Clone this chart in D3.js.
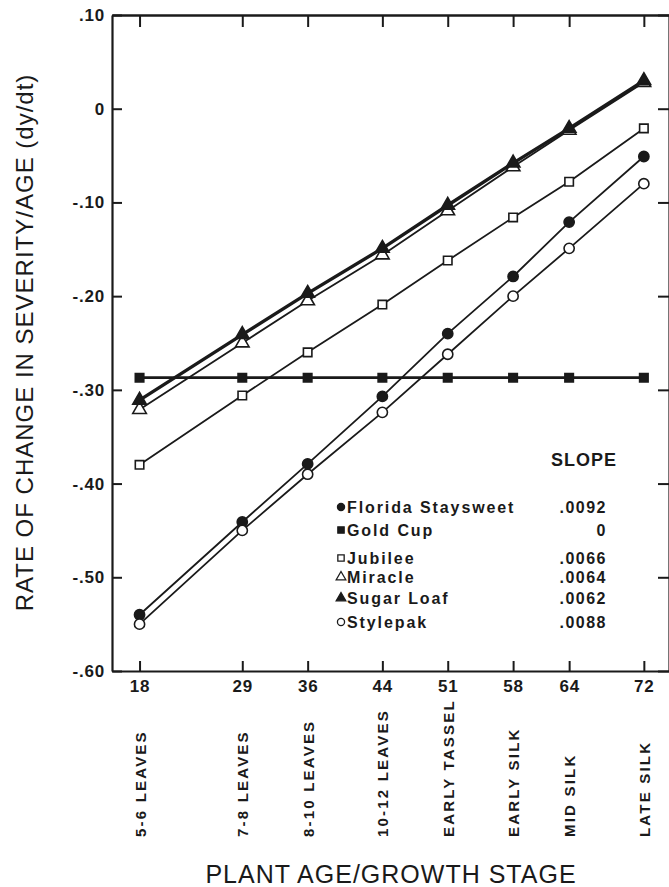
<!DOCTYPE html>
<html lang="en">
  <head>
    <meta charset="UTF-8" />
    <title>Rate of change in severity</title>
    <style>
      * {
        margin: 0;
        padding: 0;
      }
      body {
        background: #fff;
      }
      svg text {
        font-family: 'Liberation Sans', Arial, Helvetica, sans-serif;
        fill: #1a1a1a;
      }
    </style>
  </head>
  <body>
    <script src="https://cdn.jsdelivr.net/npm/d3@7"></script>
    <script>
      // plant age (days) and growth stage at each age
      const ages = [18, 29, 36, 44, 51, 58, 64, 72]
      const stages = [
        '5-6 LEAVES',
        '7-8 LEAVES',
        '8-10 LEAVES',
        '10-12 LEAVES',
        'EARLY TASSEL',
        'EARLY SILK',
        'MID SILK',
        'LATE SILK'
      ]
      const yTicks = [0.1, 0, -0.1, -0.2, -0.3, -0.4, -0.5, -0.6]

      // rate of change per cultivar, one value per age
      const floridaStaysweet = [-0.54, -0.441, -0.379, -0.307, -0.24, -0.179, -0.121, -0.051]
      const goldCup = [-0.287, -0.287, -0.287, -0.287, -0.287, -0.287, -0.287, -0.287]
      const jubilee = [-0.38, -0.306, -0.26, -0.209, -0.162, -0.116, -0.078, -0.021]
      const miracle = [-0.321, -0.25, -0.205, -0.156, -0.109, -0.062, -0.023, 0.028]
      const sugarLoaf = [-0.311, -0.241, -0.197, -0.149, -0.103, -0.058, -0.021, 0.03]
      const stylepak = [-0.55, -0.45, -0.39, -0.324, -0.262, -0.2, -0.149, -0.08]

      const names = ['Florida Staysweet', 'Gold Cup', 'Jubilee', 'Miracle', 'Sugar Loaf', 'Stylepak']
      const slopes = ['.0092', '0', '.0066', '.0064', '.0062', '.0088']

      const ink = '#1a1a1a'

      const series = [
        { name: names[0], values: floridaStaysweet, shape: d3.symbolCircle, fill: true, lw: 1.8 },
        { name: names[1], values: goldCup, shape: d3.symbolSquare, fill: true, lw: 2.6 },
        { name: names[2], values: jubilee, shape: d3.symbolSquare, fill: false, lw: 1.8 },
        { name: names[5], values: stylepak, shape: d3.symbolCircle, fill: false, lw: 1.8 },
        { name: names[3], values: miracle, shape: d3.symbolTriangle, fill: false, lw: 1.8 },
        { name: names[4], values: sugarLoaf, shape: d3.symbolTriangle, fill: true, lw: 3.4 }
      ]

      const W = 669
      const H = 887
      const mLeft = 112
      const mRight = 670
      const mTop = 15
      const mBottom = 671

      const svg = d3.select('body').append('svg').attr('width', W).attr('height', H)

      const x = d3.scaleLinear().domain([15.05, 74.8]).range([mLeft, mRight])
      const y = d3.scaleLinear().domain([-0.6, 0.1]).range([mBottom, mTop])

      const fmtY = v => {
        if (Math.abs(v) < 1e-9) return '0'
        return (v < 0 ? '-' : '') + d3.format('.2f')(Math.abs(v)).replace(/^0/, '')
      }

      // axes (ticks pointing inward)
      const gx = svg
        .append('g')
        .attr('transform', `translate(0,${mBottom})`)
        .call(d3.axisBottom(x).tickValues(ages).tickSizeInner(-10).tickSizeOuter(0).tickPadding(9).tickFormat(d3.format('d')))
      gx.selectAll('text').attr('font-size', 17).attr('font-weight', 'bold').attr('letter-spacing', 0.8)

      const gxt = svg
        .append('g')
        .attr('transform', `translate(0,${mTop})`)
        .call(d3.axisTop(x).tickValues(ages).tickSizeInner(-12).tickSizeOuter(0).tickFormat(''))

      const gy = svg
        .append('g')
        .attr('transform', `translate(${mLeft},0)`)
        .call(d3.axisLeft(y).tickValues(yTicks).tickSizeInner(-10).tickSizeOuter(0).tickPadding(7).tickFormat(fmtY))
      gy.selectAll('text').attr('font-size', 17).attr('font-weight', 'bold').attr('letter-spacing', 0.8)

      const gyr = svg
        .append('g')
        .attr('transform', `translate(${mRight - 1},0)`)
        .call(d3.axisRight(y).tickValues(yTicks).tickSizeInner(-11).tickSizeOuter(0).tickFormat(''))

      svg.selectAll('.domain').attr('stroke', ink).attr('stroke-width', 2.2)
      svg.selectAll('.tick line').attr('stroke', ink).attr('stroke-width', 2)
      gxt.select('.domain').attr('stroke-width', 2.4)

      // growth stage labels under the ages
      svg
        .append('g')
        .selectAll('text')
        .data(stages)
        .join('text')
        .attr('transform', (d, i) => `translate(${x(ages[i]) + 6},837) rotate(-90)`)
        .attr('font-size', 15)
        .attr('font-weight', 'bold')
        .attr('letter-spacing', 2.2)
        .text(d => d)

      svg
        .append('text')
        .attr('x', (mLeft + mRight) / 2)
        .attr('y', 883)
        .attr('text-anchor', 'middle')
        .attr('font-size', 25)
        .attr('letter-spacing', 1)
        .text('PLANT AGE/GROWTH STAGE')

      svg
        .append('text')
        .attr('transform', `translate(33,${(72 + 613) / 2}) rotate(-90)`)
        .attr('text-anchor', 'middle')
        .attr('font-size', 24)
        .attr('letter-spacing', 1)
        .text('RATE OF CHANGE IN SEVERITY/AGE (dy/dt)')

      // lines and markers
      const line = d3
        .line()
        .x((d, i) => x(ages[i]))
        .y(d => y(d))

      const plot = svg.append('g')
      series.forEach(s => {
        plot
          .append('path')
          .datum(s.values)
          .attr('fill', 'none')
          .attr('stroke', ink)
          .attr('stroke-width', s.lw)
          .attr('d', line)
        const size = s.shape === d3.symbolTriangle ? 80 : s.shape === d3.symbolSquare ? 72 : 82
        plot
          .append('g')
          .selectAll('path')
          .data(s.values)
          .join('path')
          .attr('transform', (d, i) => `translate(${x(ages[i])},${y(d)})`)
          .attr('d', d3.symbol(s.shape, size))
          .attr('fill', s.fill ? ink : '#fff')
          .attr('stroke', ink)
          .attr('stroke-width', 1.6)
      })

      // legend
      const legendShapes = [
        { shape: d3.symbolCircle, fill: true },
        { shape: d3.symbolSquare, fill: true },
        { shape: d3.symbolSquare, fill: false },
        { shape: d3.symbolTriangle, fill: false },
        { shape: d3.symbolTriangle, fill: true },
        { shape: d3.symbolCircle, fill: false }
      ]
      const legendY = [507, 530, 558, 577, 598, 622]

      svg
        .append('text')
        .attr('x', 584)
        .attr('y', 466)
        .attr('text-anchor', 'middle')
        .attr('font-size', 18)
        .attr('font-weight', 'bold')
        .attr('letter-spacing', 1)
        .text('SLOPE')

      const leg = svg
        .append('g')
        .selectAll('g')
        .data(names)
        .join('g')
        .attr('transform', (d, i) => `translate(0,${legendY[i]})`)

      leg
        .append('path')
        .attr('transform', 'translate(341,0)')
        .attr('d', (d, i) => d3.symbol(legendShapes[i].shape, 40)())
        .attr('fill', (d, i) => (legendShapes[i].fill ? ink : '#fff'))
        .attr('stroke', ink)
        .attr('stroke-width', 1.3)

      leg
        .append('text')
        .attr('x', 347)
        .attr('y', 6)
        .attr('font-size', 16)
        .attr('font-weight', 'bold')
        .attr('letter-spacing', 1.9)
        .text(d => d)

      leg
        .append('text')
        .attr('x', 607)
        .attr('y', 6)
        .attr('text-anchor', 'end')
        .attr('font-size', 16)
        .attr('font-weight', 'bold')
        .attr('letter-spacing', 1.5)
        .text((d, i) => slopes[i])
    </script>
  </body>
</html>
